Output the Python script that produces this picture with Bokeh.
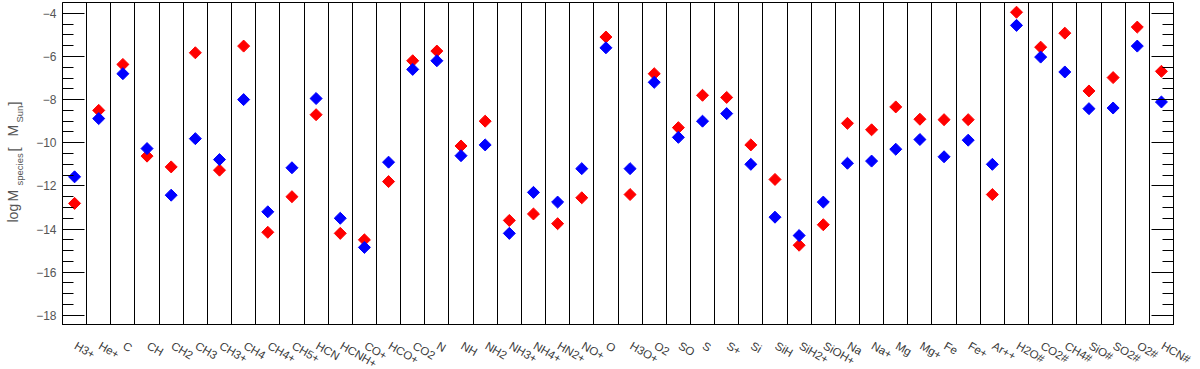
import numpy as np
from bokeh.plotting import figure
from bokeh.layouts import row, column
from bokeh.models import (ColumnDataSource, FixedTicker, Grid, LinearAxis,
                          Label, Range1d)
from bokeh.core.properties import value
from bokeh.embed import file_html
from bokeh.resources import INLINE

species = ["H3+", "He+", "C", "CH", "CH2", "CH3", "CH3+", "CH4", "CH4+", "CH5+",
           "HCN", "HCNH+", "CO+", "HCO+", "CO2", "N", "NH", "NH2", "NH3+", "NH4+",
           "HN2+", "NO+", "O", "H3O+", "O2", "SO", "S", "S+", "Si", "SiH",
           "SiH2+", "SiOH+", "Na", "Na+", "Mg", "Mg+", "Fe", "Fe+", "Ar++", "H2O#",
           "CO2#", "CH4#", "SiO#", "SO2#", "O2#", "HCN#"]

mass_red = [-12.81, -8.50, -6.37, -10.62, -11.12, -5.83, -11.27, -5.52, -14.15, -12.50,
            -8.70, -14.20, -14.50, -11.80, -6.20, -5.75, -10.15, -9.00, -13.60, -13.30,
            -13.75, -12.55, -5.10, -12.40, -6.80, -9.30, -7.80, -7.90, -10.10, -11.70,
            -14.75, -13.80, -9.10, -9.40, -8.34, -8.91, -8.93, -8.93, -12.40, -3.95,
            -5.57, -4.92, -7.60, -6.98, -4.64, -6.69]

mass_blue = [-11.58, -8.88, -6.80, -10.27, -12.43, -9.81, -10.78, -8.00, -13.20, -11.16,
             -7.95, -13.50, -14.85, -10.90, -6.60, -6.20, -10.60, -10.10, -14.20, -12.30,
             -12.75, -11.20, -5.60, -11.20, -7.20, -9.75, -9.00, -8.65, -11.00, -13.45,
             -14.30, -12.75, -10.95, -10.85, -10.30, -9.85, -10.65, -9.88, -11.00, -4.56,
             -6.03, -6.72, -8.42, -8.39, -5.52, -8.11]

y_ticks = [-18, -16, -14, -12, -10, -8, -6, -4]
y_tick_labels = ["\u221218", "\u221216", "\u221214", "\u221212", "\u221210",
                 "\u22128", "\u22126", "\u22124"]
y_minor = [-18.5, -17.5, -17.0, -16.5, -15.5, -15.0, -14.5, -13.5, -13.0, -12.5,
           -11.5, -11.0, -10.5, -9.5, -9.0, -8.5, -7.5, -7.0, -6.5, -5.5, -5.0, -4.5]

# y-axis title "log M_species [M_Sun]" split into pieces: (text, kind)
title_pieces = [("log", "main"), ("M", "main"), ("species", "sub"),
                ("[", "br"), ("M", "main"), ("Sun", "sub"), ("]", "br")]

n = len(species)
xs = list(range(n))

FONT = "Liberation Sans"
GRAY = "#555555"
LABEL_COLOR = "#3a3a3a"

FRAME_W, FRAME_H = 1111, 323
BORDER_L, BORDER_R, BORDER_T = 34, 19, 2
STRIP_H = 44
TITLE_W = 28
TOTAL_H = BORDER_T + FRAME_H + STRIP_H

# ---------------- main plot ----------------
x_range = Range1d(-0.5, n - 0.5)
p = figure(frame_width=FRAME_W, frame_height=FRAME_H, title=None,
           x_range=x_range, y_range=Range1d(-18.47, -3.5),
           x_axis_type=None, output_backend="svg", toolbar_location=None,
           min_border_left=BORDER_L, min_border_right=BORDER_R,
           min_border_top=BORDER_T, min_border_bottom=0)
p.outline_line_color = "black"
p.outline_line_width = 1
p.ygrid.visible = False
p.background_fill_color = "white"
p.border_fill_color = "white"

# vertical separators between species columns
p.add_layout(Grid(dimension=0, ticker=FixedTicker(ticks=[i + 0.5 for i in range(n - 1)]),
                  grid_line_color="black", grid_line_width=1, grid_line_alpha=1.0))

ticker = FixedTicker(ticks=y_ticks, minor_ticks=y_minor)
yax = p.yaxis[0]
yax.ticker = ticker
yax.major_label_overrides = dict(zip(y_ticks, y_tick_labels))
yax.major_tick_in = 22
yax.major_tick_out = 0
yax.minor_tick_in = 11
yax.minor_tick_out = 0
yax.axis_line_color = "black"
yax.major_tick_line_color = "black"
yax.minor_tick_line_color = "black"
yax.major_label_text_font = FONT
yax.major_label_text_font_size = "12px"
yax.major_label_text_color = GRAY
yax.major_label_standoff = 6

rax = LinearAxis(ticker=ticker, major_tick_in=22, major_tick_out=0,
                 minor_tick_in=11, minor_tick_out=0,
                 major_label_overrides={t: "" for t in y_ticks},
                 axis_line_color="black",
                 major_tick_line_color="black", minor_tick_line_color="black")
p.add_layout(rax, "right")

src = ColumnDataSource(dict(x=xs, red=mass_red, blue=mass_blue, name=species))

p.scatter("x", "red", source=src, marker="square", angle=np.pi / 4, size=8.5,
          fill_color="#ff0000", line_color="#ff0000")
p.scatter("x", "blue", source=src, marker="square", angle=np.pi / 4, size=8.5,
          fill_color="#0000ff", line_color="#0000ff")

# ---------------- slanted species labels strip (below the plot) ----------------
units_per_px = n / FRAME_W
xl = figure(frame_width=FRAME_W + BORDER_R, frame_height=STRIP_H, title=None,
            x_range=Range1d(-0.5, n - 0.5 + BORDER_R * units_per_px),
            y_range=Range1d(0, STRIP_H),
            x_axis_type=None, y_axis_type=None, output_backend="svg",
            toolbar_location=None, min_border_left=BORDER_L, min_border_right=0,
            min_border_top=0, min_border_bottom=0)
xl.outline_line_color = None
xl.xgrid.visible = False
xl.ygrid.visible = False
xl.background_fill_color = "white"
xl.border_fill_color = "white"
xl.text(x="x", y=STRIP_H - 14, text="name", source=src, angle=-np.pi / 6,
        x_offset=4, text_align="left", text_baseline="top",
        text_font=value(FONT), text_font_size="11.5px", text_color=LABEL_COLOR)

# ---------------- y-axis title strip (left) ----------------
t = figure(width=TITLE_W, height=TOTAL_H, title=None,
           x_range=Range1d(0, TITLE_W), y_range=Range1d(0, TOTAL_H),
           x_axis_type=None, y_axis_type=None, output_backend="svg",
           toolbar_location=None, min_border=0)
t.outline_line_color = None
t.xgrid.visible = False
t.ygrid.visible = False
t.background_fill_color = "white"
t.border_fill_color = "white"

# start (lower end) of each piece, in px from the top of the page
starts = [222, 201, 185, 151, 136, 122, 105]
style = {"main": (12.5, "14px"), "sub": (18.5, "9.5px"), "br": (12.5, "15px")}
for (txt, kind), st in zip(title_pieces, starts):
    bx, fs = style[kind]
    t.add_layout(Label(x=bx, y=TOTAL_H - st, text=txt, angle=np.pi / 2,
                       text_font=FONT, text_font_size=fs, text_color=GRAY,
                       text_align="left", text_baseline="alphabetic"))

layout = row(t, column(p, xl, spacing=0), spacing=0)
open("out.html", "w").write(file_html(layout, INLINE))
